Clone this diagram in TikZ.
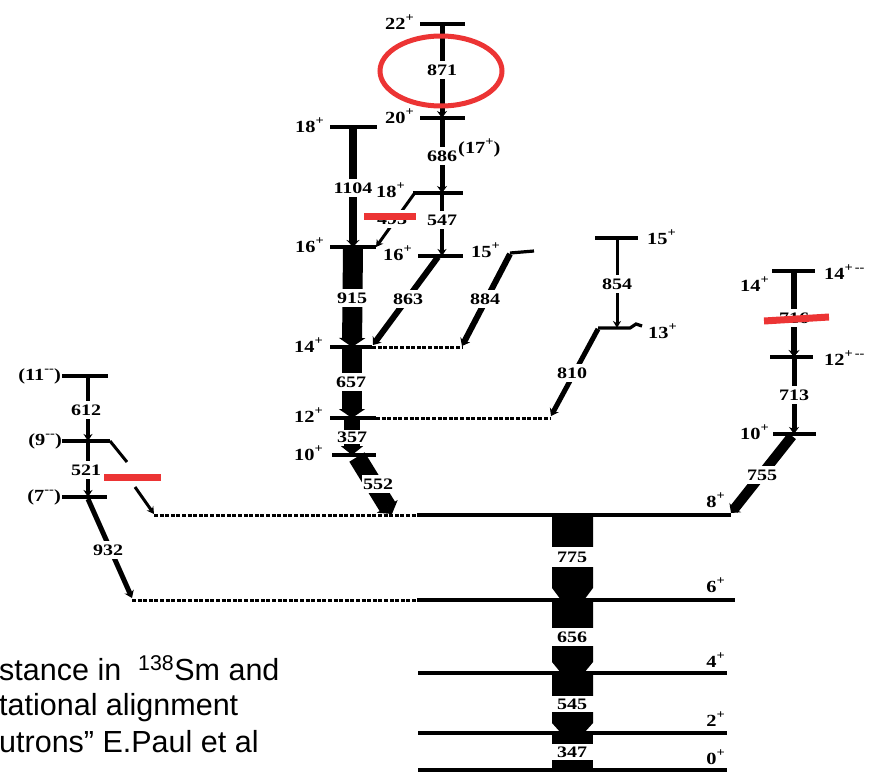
\documentclass[tikz,border=0pt]{standalone}
\usepackage{fontspec}
\setmainfont{Liberation Serif}
\newfontfamily\lblfont[FakeStretch=1.2]{Liberation Serif Bold}
\newfontfamily\tlblfont[FakeStretch=1.25]{Liberation Serif Bold}
\newfontfamily\capfont{Liberation Sans}
\usetikzlibrary{arrows.meta}
\definecolor{markred}{RGB}{236,52,52}
\newcommand{\sps}[1]{\raisebox{0.45em}{\fontsize{12}{12}\selectfont #1}}
\tikzset{
  lvl/.style={line width=3.2pt},
  dotlvl/.style={line width=3pt, dash pattern=on 4pt off 1.6pt},
  gam/.style={line width=#1, -{Stealth[length=7pt, width=5pt 1]}},
  fat/.style={line width=#1, -{Triangle[length=9pt, width=6pt 1]}},
  tlab/.style={fill=white, inner xsep=1.5pt, inner ysep=3.5pt, font=\tlblfont\fontsize{16}{16}\selectfont},
  slab/.style={inner sep=0pt, font=\lblfont\fontsize{17}{17}\selectfont},
  redmark/.style={draw=markred, line width=7pt},
  captext/.style={anchor=base west, inner sep=0pt, font=\capfont\fontsize{30.5}{34}\selectfont}
}
\begin{document}
\begin{tikzpicture}[x=1pt,y=-1pt]
\useasboundingbox (0,0) rectangle (877,771);

% ---------- transition end points ----------
\coordinate (s22) at (442,24);  \coordinate (s20) at (442,118);
\coordinate (s18) at (442,193); \coordinate (s16) at (442,256);
\coordinate (m18) at (353,127); \coordinate (m16) at (353,247);
\coordinate (m14) at (352,347); \coordinate (m12) at (352,418);
\coordinate (m10) at (352,455);
\coordinate (a552) at (357,457); \coordinate (b552) at (392,514);
\coordinate (a493) at (414,194); \coordinate (b493) at (376,247);
\coordinate (a863) at (438,257); \coordinate (b863) at (373,345);
\coordinate (a884) at (510,254); \coordinate (b884) at (462,346);
\coordinate (t15) at (617,238);  \coordinate (t13) at (617,328);
\coordinate (a810) at (598,329); \coordinate (b810) at (551,416);
\coordinate (r14) at (794,271);  \coordinate (r12) at (794,357);
\coordinate (r10) at (794,434);
\coordinate (a755) at (792,436); \coordinate (b755) at (731,513);
\coordinate (l11) at (88,376);   \coordinate (l9) at (88,441);
\coordinate (l7) at (88,497);
\coordinate (a932) at (88,499);  \coordinate (b932) at (132,598);
\coordinate (a9x) at (110,441);  \coordinate (p9x) at (127,462);
\coordinate (q9x) at (135,487);  \coordinate (b9x) at (154,514);

% ---------- thin / thick transitions ----------
\draw[gam=5pt] (s22) -- (s20);
\draw[gam=5pt] (s20) -- (s18);
\draw[gam=4pt] (s18) -- (s16);
\draw[gam=8pt] (m18) -- (m16);
\draw[fat=20pt] (m16) -- (m14);
\draw[fat=20pt] (m14) -- (m12);
\draw[fat=16pt] (m12) -- (m10);
\draw[fat=18pt] (a552) -- (b552);
\draw[gam=3pt] (a493) -- (b493);
\draw[gam=6pt] (a863) -- (b863);
\draw[gam=6pt] (a884) -- (b884);
\draw[gam=3pt] (t15) -- (t13);
\draw[gam=5pt] (a810) -- (b810);
\draw[gam=6pt] (r14) -- (r12);
\draw[gam=5pt] (r12) -- (r10);
\draw[gam=10pt] (a755) -- (b755);
\draw[gam=4pt] (l11) -- (l9);
\draw[gam=4pt] (l9) -- (l7);
\draw[gam=5pt] (a932) -- (b932);
\draw[line width=3pt] (a9x) -- (p9x);
\draw[gam=3pt] (q9x) -- (b9x);

% ---------- wide ground-band transitions ----------
\fill (552,515) -- (593,515) -- (593,588) -- (584,600) -- (561,600) -- (552,588) -- cycle;
\fill (552,600) -- (593,600) -- (593,662) -- (584,673) -- (561,673) -- (552,662) -- cycle;
\fill (552,673) -- (593,673) -- (593,723) -- (584,733) -- (561,733) -- (552,723) -- cycle;
\fill (552,733) -- (593,733) -- (593,771) -- (552,771) -- cycle;

% ---------- transition labels ----------
\node[tlab] (n871) at (442,70) {871};
\node[tlab] (n686) at (442,156) {686};
\node[tlab] (n547) at (442,220) {547};
\node[tlab] (n1104) at (353,188) {1104};
\node[tlab] (n915) at (352,298) {915};
\node[tlab] (n657) at (351,382) {657};
\node[tlab, inner ysep=1.5pt] (n357) at (352,437) {357};
\node[tlab] (n552) at (378,484) {552};
\node[tlab] (n493) at (392,219) {493};
\node[tlab] (n863) at (408,299) {863};
\node[tlab] (n884) at (485,299) {884};
\node[tlab] (n854) at (617,284) {854};
\node[tlab] (n810) at (572,373) {810};
\node[tlab] (n716) at (794,318) {716};
\node[tlab] (n713) at (794,395) {713};
\node[tlab] (n755) at (762,475) {755};
\node[tlab] (n612) at (86,410) {612};
\node[tlab] (n521) at (86,470) {521};
\node[tlab] (n932) at (108,550) {932};
\node[tlab, minimum width=48pt, inner ysep=5pt] (n775) at (572,557) {775};
\node[tlab, minimum width=48pt, inner ysep=4pt] (n656) at (572,637) {656};
\node[tlab, minimum width=48pt, inner ysep=3pt] (n545) at (572,704) {545};
\node[tlab, minimum width=48pt, inner ysep=2.5pt] (n347) at (572,752) {347};

% ---------- levels ----------
\draw[lvl] (420,24) -- (465,24);
\draw[lvl] (420,118) -- (465,118);
\draw[lvl] (413,193) -- (463,193);
\draw[lvl] (418,256) -- (463,256);
\draw[lvl] (510,253) -- (534,251);
\draw[lvl] (330,127) -- (377,127);
\draw[lvl] (330,247) -- (376,247);
\draw[lvl] (330,347) -- (372,347);
\draw[dotlvl] (372,347) -- (462,347);
\draw[lvl] (330,418) -- (376,418);
\draw[dotlvl] (376,418) -- (551,418);
\draw[lvl] (332,455) -- (376,455);
\draw[lvl] (595,238) -- (638,238);
\draw[lvl] (598,328) -- (630,328) -- (636,324) -- (642,326);
\draw[lvl] (772,271) -- (815,271);
\draw[lvl] (770,357) -- (813,357);
\draw[lvl] (773,434) -- (816,434);
\draw[lvl] (62,376) -- (108,376);
\draw[lvl] (62,441) -- (110,441);
\draw[lvl] (62,497) -- (107,497);
\draw[dotlvl] (154,515) -- (417,515);
\draw[lvl] (417,515) -- (731,515);
\draw[dotlvl] (132,600) -- (417,600);
\draw[lvl] (417,600) -- (735,600);
\draw[lvl] (418,673) -- (727,673);
\draw[lvl] (418,733) -- (727,733);
\draw[lvl] (418,770) -- (727,770);

% ---------- spin labels ----------
\node[slab, anchor=east] (j22) at (414,22) {22\sps{+}};
\node[slab, anchor=east] (j20) at (414,116) {20\sps{+}};
\node[slab, anchor=west] (j17) at (458,148) {(17\sps{+})};
\node[slab, anchor=east] (j18b) at (405,190) {18\sps{+}};
\node[slab, anchor=east] (j16b) at (412,253) {16\sps{+}};
\node[slab, anchor=east] (j15b) at (500,250) {15\sps{+}};
\node[slab, anchor=east] (j18a) at (324,125) {18\sps{+}};
\node[slab, anchor=east] (j16a) at (324,245) {16\sps{+}};
\node[slab, anchor=east] (j14a) at (323,345) {14\sps{+}};
\node[slab, anchor=east] (j12a) at (323,415) {12\sps{+}};
\node[slab, anchor=east] (j10a) at (323,453) {10\sps{+}};
\node[slab, anchor=west] (j15c) at (647,237) {15\sps{+}};
\node[slab, anchor=west] (j13c) at (648,331) {13\sps{+}};
\node[slab, anchor=east] (j14r) at (769,284) {14\sps{+}};
\node[slab, anchor=west] (j14x) at (824,272) {14\sps{+\,--}};
\node[slab, anchor=west] (j12x) at (824,358) {12\sps{+\,--}};
\node[slab, anchor=east] (j10r) at (769,432) {10\sps{+}};
\node[slab, anchor=east] (j8) at (725,500) {8\sps{+}};
\node[slab, anchor=east] (j6) at (725,585) {6\sps{+}};
\node[slab, anchor=east] (j4) at (725,660) {4\sps{+}};
\node[slab, anchor=east] (j2) at (725,719) {2\sps{+}};
\node[slab, anchor=east] (j0) at (725,757) {0\sps{+}};
\node[slab, anchor=east] (j11) at (61,376) {(11\sps{--})};
\node[slab, anchor=east] (j9) at (62,441) {(9\sps{--})};
\node[slab, anchor=east] (j7) at (61,497) {(7\sps{--})};

% ---------- red annotations ----------
\draw[draw=markred, line width=5pt] (441,71) ellipse [x radius=61pt, y radius=35pt];
\draw[redmark] (364,216) -- (416,216);
\draw[redmark] (104,477) -- (161,477);
\draw[redmark] (764,321) -- (829,317);

% ---------- caption fragment ----------
\node[captext] (c1) at (-1,680) {stance in\ \ \textsuperscript{138}Sm and};
\node[captext] (c2) at (-1,715) {tational alignment};
\node[captext] (c3) at (-1,752) {utrons” E.Paul et al};
\end{tikzpicture}
\end{document}
